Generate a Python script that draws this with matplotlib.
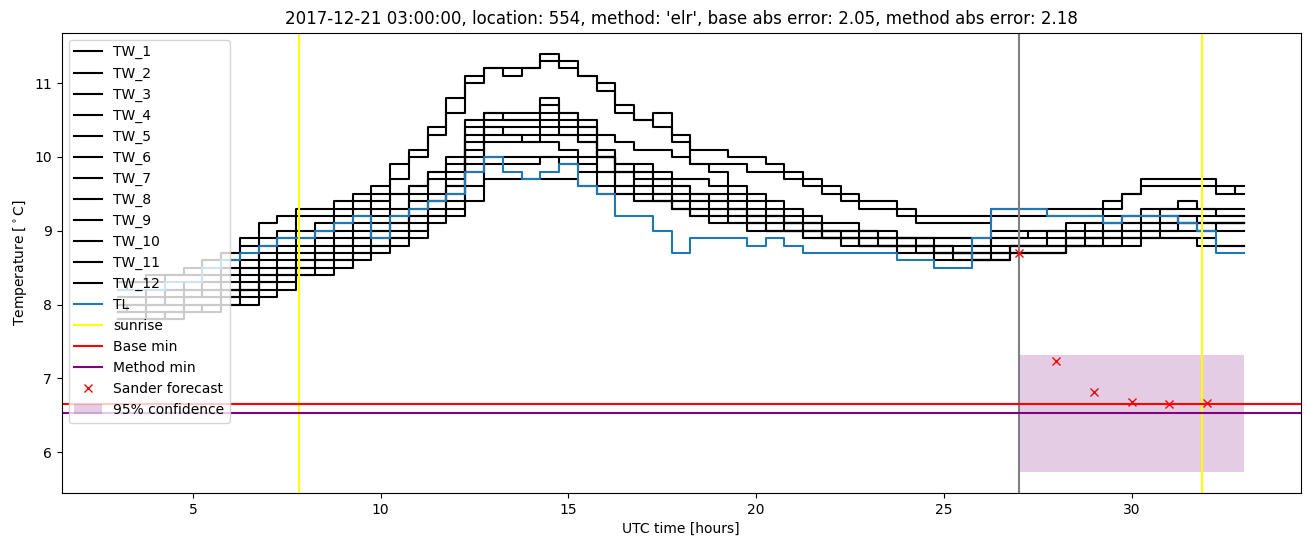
import numpy as np
import matplotlib
matplotlib.use("Agg")
import matplotlib.pyplot as plt

# time axis, half-hour grid from 03 UTC to 09 UTC next day
HOURS = np.arange(3.0, 33.01, 0.5)

TW_1 = [8.3, 8.3, 8.4, 8.4, 8.5, 8.6, 8.7, 8.9, 9.1, 9.2, 9.3, 9.3,
        9.4, 9.5, 9.6, 9.9, 10.1, 10.4, 10.8, 11.1, 11.2, 11.1, 11.2, 11.4,
        11.3, 11.1, 11.0, 10.7, 10.5, 10.6, 10.3, 10.1, 10.1, 10.0, 10.0, 9.9,
        9.8, 9.7, 9.6, 9.5, 9.4, 9.4, 9.3, 9.2, 9.2, 9.2, 9.2, 9.3,
        9.3, 9.3, 9.3, 9.3, 9.3, 9.4, 9.5, 9.7, 9.7, 9.7, 9.7, 9.5, 9.6]
TW_2 = [8.2, 8.3, 8.3, 8.4, 8.4, 8.5, 8.6, 8.8, 8.9, 9.0, 9.2, 9.2,
        9.3, 9.4, 9.5, 9.7, 10.0, 10.3, 10.6, 11.0, 11.2, 11.2, 11.2, 11.3,
        11.2, 11.1, 10.9, 10.6, 10.5, 10.4, 10.2, 9.9, 9.9, 9.9, 9.8, 9.8,
        9.7, 9.6, 9.5, 9.4, 9.3, 9.3, 9.2, 9.1, 9.1, 9.1, 9.1, 9.2,
        9.2, 9.2, 9.2, 9.2, 9.2, 9.3, 9.5, 9.6, 9.6, 9.6, 9.6, 9.6, 9.5]
TW_3 = [8.1, 8.1, 8.2, 8.2, 8.3, 8.4, 8.5, 8.6, 8.8, 8.9, 9.0, 9.0,
        9.1, 9.2, 9.3, 9.5, 9.6, 9.8, 10.0, 10.4, 10.6, 10.6, 10.6, 10.8,
        10.6, 10.4, 10.3, 10.2, 10.1, 10.1, 10.0, 9.9, 9.8, 9.6, 9.5, 9.4,
        9.3, 9.2, 9.1, 9.1, 9.0, 9.0, 8.9, 8.9, 8.9, 8.9, 8.9, 9.0,
        9.0, 9.0, 9.0, 9.1, 9.1, 9.2, 9.2, 9.3, 9.3, 9.4, 9.3, 9.3, 9.3]
TW_4 = [8.0, 8.0, 8.1, 8.2, 8.2, 8.3, 8.4, 8.5, 8.7, 8.8, 8.9, 9.1,
        9.2, 9.3, 9.4, 9.5, 9.6, 9.8, 9.9, 10.5, 10.6, 10.5, 10.5, 10.7,
        10.6, 10.5, 10.1, 9.9, 9.9, 9.8, 9.7, 9.7, 9.6, 9.5, 9.4, 9.3,
        9.2, 9.1, 9.0, 9.0, 9.0, 8.9, 8.9, 8.9, 8.8, 8.8, 8.8, 8.9,
        8.9, 8.9, 9.0, 8.9, 9.0, 9.1, 9.2, 9.2, 9.3, 9.3, 9.3, 9.2, 9.2]
TW_5 = [7.9, 8.0, 8.0, 8.1, 8.2, 8.2, 8.3, 8.5, 8.6, 8.7, 8.8, 8.9,
        9.0, 9.1, 9.2, 9.3, 9.5, 9.7, 9.8, 10.3, 10.5, 10.5, 10.5, 10.6,
        10.5, 10.4, 10.0, 9.9, 9.8, 9.7, 9.6, 9.5, 9.5, 9.4, 9.3, 9.2,
        9.1, 9.1, 9.0, 9.0, 8.9, 8.9, 8.9, 8.8, 8.8, 8.7, 8.7, 8.8,
        8.8, 8.8, 8.9, 8.9, 8.9, 9.0, 9.1, 9.1, 9.2, 9.1, 9.1, 9.1, 9.1]
TW_6 = [7.9, 7.9, 8.0, 8.0, 8.1, 8.1, 8.2, 8.4, 8.5, 8.6, 8.7, 8.8,
        8.9, 9.0, 9.1, 9.2, 9.4, 9.5, 9.7, 10.2, 10.4, 10.4, 10.4, 10.5,
        10.4, 10.3, 10.0, 9.8, 9.8, 9.7, 9.6, 9.5, 9.4, 9.3, 9.2, 9.2,
        9.1, 9.0, 9.0, 8.9, 8.9, 8.9, 8.8, 8.8, 8.7, 8.7, 8.6, 8.7,
        8.8, 8.8, 8.8, 8.9, 8.9, 9.0, 9.0, 9.1, 9.1, 9.2, 9.2, 9.2, 9.2]
TW_7 = [7.8, 7.8, 7.9, 7.9, 8.0, 8.0, 8.1, 8.2, 8.4, 8.5, 8.6, 8.7,
        8.8, 8.9, 9.0, 9.1, 9.2, 9.4, 9.6, 10.1, 10.4, 10.3, 10.3, 10.4,
        10.3, 10.2, 10.0, 9.8, 9.7, 9.6, 9.5, 9.4, 9.4, 9.3, 9.2, 9.1,
        9.1, 9.0, 8.9, 8.9, 8.9, 8.8, 8.8, 8.8, 8.7, 8.7, 8.7, 8.7,
        8.8, 8.8, 8.8, 8.9, 8.9, 8.9, 9.0, 9.0, 9.1, 9.1, 9.1, 9.1, 9.1]
TW_8 = [7.8, 7.8, 7.8, 7.9, 7.9, 8.0, 8.1, 8.2, 8.3, 8.4, 8.5, 8.6,
        8.7, 8.8, 8.9, 9.0, 9.2, 9.3, 9.5, 10.0, 10.3, 10.3, 10.2, 10.3,
        10.3, 10.2, 10.0, 9.8, 9.6, 9.5, 9.4, 9.3, 9.3, 9.2, 9.1, 9.1,
        9.0, 9.0, 8.9, 8.9, 8.8, 8.8, 8.8, 8.8, 8.8, 8.7, 8.6, 8.6,
        8.7, 8.7, 8.7, 8.8, 8.8, 8.9, 8.9, 9.0, 9.0, 9.1, 9.0, 9.1, 9.1]
TW_9 = [7.9, 7.9, 7.9, 7.9, 8.0, 8.0, 8.0, 8.1, 8.2, 8.3, 8.4, 8.5,
        8.6, 8.7, 8.8, 8.9, 9.1, 9.2, 9.4, 9.9, 10.2, 10.2, 10.2, 10.2,
        10.1, 10.0, 9.8, 9.6, 9.5, 9.4, 9.3, 9.3, 9.2, 9.2, 9.1, 9.0,
        9.0, 8.9, 8.9, 8.8, 8.8, 8.8, 8.7, 8.7, 8.6, 8.6, 8.6, 8.6,
        8.7, 8.7, 8.7, 8.8, 8.8, 8.8, 8.9, 8.9, 9.0, 9.0, 9.0, 9.0, 9.0]
TW_10 = [8.0, 8.0, 8.0, 8.1, 8.1, 8.2, 8.2, 8.3, 8.4, 8.5, 8.6, 8.7,
         8.8, 8.9, 9.0, 9.1, 9.3, 9.4, 9.6, 9.8, 10.0, 10.0, 10.0, 10.0,
         10.0, 9.9, 9.8, 9.6, 9.6, 9.5, 9.4, 9.4, 9.3, 9.3, 9.2, 9.2,
         9.1, 9.1, 9.0, 9.0, 9.0, 8.9, 8.9, 8.9, 8.9, 8.9, 8.8, 8.9,
         8.9, 9.0, 9.0, 9.0, 9.1, 9.1, 9.1, 9.2, 9.2, 9.2, 9.1, 9.1, 9.1]
TW_11 = [7.9, 7.9, 8.0, 8.0, 8.1, 8.1, 8.2, 8.2, 8.3, 8.4, 8.5, 8.6,
         8.6, 8.7, 8.8, 8.9, 9.0, 9.2, 9.3, 9.6, 9.9, 9.9, 9.9, 10.0,
         9.9, 9.8, 9.6, 9.5, 9.4, 9.4, 9.3, 9.2, 9.2, 9.1, 9.1, 9.0,
         9.0, 9.0, 8.9, 8.9, 8.8, 8.8, 8.8, 8.7, 8.7, 8.7, 8.7, 8.7,
         8.8, 8.8, 8.8, 8.8, 8.9, 8.9, 8.9, 8.9, 8.9, 8.9, 8.8, 8.8, 8.8]
TW_12 = [7.8, 7.8, 7.8, 7.8, 7.9, 7.9, 8.0, 8.0, 8.1, 8.2, 8.4, 8.4,
         8.5, 8.6, 8.7, 8.8, 8.9, 9.1, 9.2, 9.4, 9.7, 9.7, 9.7, 9.7,
         9.7, 9.6, 9.5, 9.5, 9.4, 9.4, 9.3, 9.2, 9.1, 9.1, 9.0, 9.0,
         9.0, 8.9, 8.9, 8.9, 8.8, 8.8, 8.8, 8.8, 8.7, 8.6, 8.6, 8.6,
         8.7, 8.7, 8.7, 8.8, 8.8, 8.8, 8.8, 8.9, 8.9, 8.9, 8.9, 8.8, 8.8]
TL = [8.2, 8.2, 8.2, 8.3, 8.3, 8.5, 8.6, 8.7, 8.8, 8.9, 8.9, 9.0,
      9.1, 9.2, 8.9, 9.2, 9.3, 9.4, 9.5, 9.8, 10.0, 9.8, 9.7, 9.8,
      9.9, 9.6, 9.5, 9.2, 9.2, 9.0, 8.7, 8.9, 8.9, 8.9, 8.8, 8.9,
      8.8, 8.7, 8.7, 8.7, 8.7, 8.7, 8.6, 8.6, 8.5, 8.5, 8.9, 9.3,
      9.3, 9.3, 9.2, 9.2, 9.2, 9.1, 9.2, 9.2, 9.2, 9.1, 9.0, 8.7, 8.7]
TW = [TW_1, TW_2, TW_3, TW_4, TW_5, TW_6, TW_7, TW_8, TW_9, TW_10, TW_11, TW_12]

SUNRISE = [7.83, 31.88]
FORECAST_TIME = 27.0
BASE_MIN = 6.65
METHOD_MIN = 6.53
SANDER_X = [27, 28, 29, 30, 31, 32]
SANDER_Y = [8.7, 7.23, 6.82, 6.68, 6.65, 6.66]
CONF_X = [27, 33]
CONF_LO = 5.73
CONF_HI = 7.32

fig, ax = plt.subplots(figsize=(13.11, 5.47), dpi=100)
fig.subplots_adjust(left=0.047, right=0.992, bottom=0.099, top=0.94)

for i, series in enumerate(TW):
    ax.plot(HOURS, series, color="black", drawstyle="steps-mid", label=f"TW_{i + 1}")
ax.plot(HOURS, TL, color="C0", drawstyle="steps-mid", label="TL")
ax.axvline(SUNRISE[0], color="yellow", label="sunrise")
ax.axvline(SUNRISE[1], color="yellow")
ax.axvline(FORECAST_TIME, color="grey")
ax.axhline(BASE_MIN, color="red", label="Base min")
ax.axhline(METHOD_MIN, color="purple", label="Method min")
ax.plot(SANDER_X, SANDER_Y, "x", color="red", label="Sander forecast")
ax.fill_between(CONF_X, CONF_LO, CONF_HI, color="purple", alpha=0.2, lw=0,
                label="95% confidence")

ax.set_xlabel("UTC time [hours]")
ax.set_ylabel(r"Temperature [$^\circ$C]")
ax.set_title("2017-12-21 03:00:00, location: 554, method: 'elr', "
             "base abs error: 2.05, method abs error: 2.18")
ax.legend(loc="upper left")

fig.savefig("out.png", dpi=100)
